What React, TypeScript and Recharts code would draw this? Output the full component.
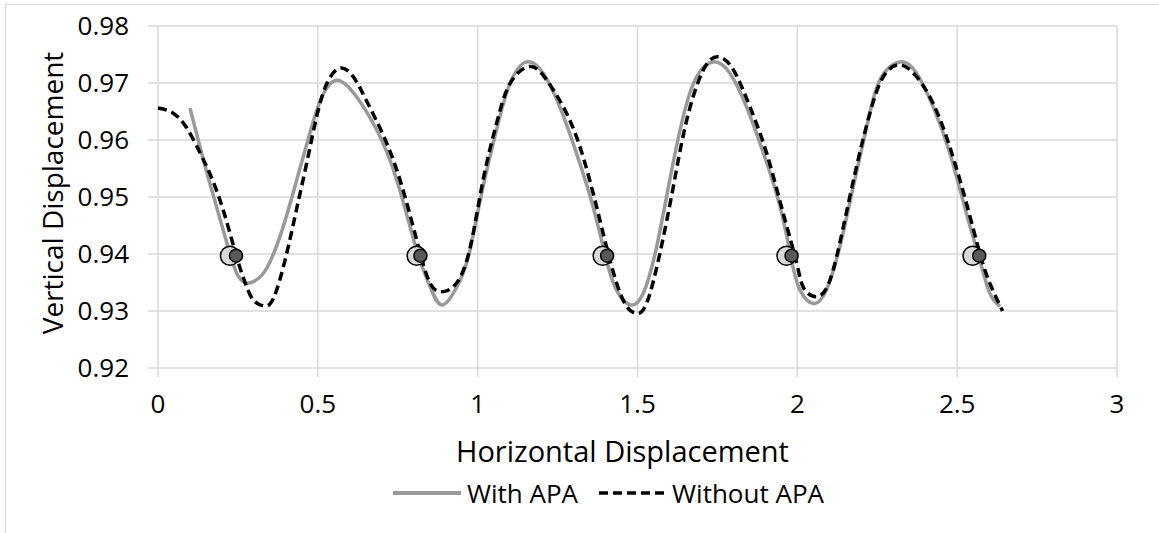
import React from "react";
import { ComposedChart, Line, Scatter, XAxis, YAxis, CartesianGrid } from "recharts";

const withApaX = [0.1, 0.142, 0.183, 0.225, 0.25, 0.275, 0.3, 0.34, 0.39, 0.434, 0.475, 0.51, 0.559, 0.621, 0.684, 0.747, 0.809, 0.851, 0.892, 0.945, 0.976, 1.017, 1.059, 1.101, 1.153, 1.205, 1.257, 1.309, 1.361, 1.403, 1.434, 1.476, 1.518, 1.56, 1.601, 1.643, 1.685, 1.737, 1.789, 1.841, 1.894, 1.946, 1.982, 2.008, 2.05, 2.091, 2.133, 2.175, 2.217, 2.258, 2.321, 2.373, 2.425, 2.477, 2.529, 2.571, 2.602, 2.634];
const withApaY = [0.9656, 0.9565, 0.9483, 0.9401, 0.9362, 0.9349, 0.9352, 0.9375, 0.9445, 0.953, 0.9612, 0.9672, 0.9705, 0.9676, 0.9618, 0.953, 0.9407, 0.9343, 0.9311, 0.9354, 0.9407, 0.9518, 0.9618, 0.9699, 0.9737, 0.9717, 0.9658, 0.9577, 0.9483, 0.9389, 0.9337, 0.9311, 0.9331, 0.9413, 0.953, 0.9641, 0.9711, 0.9737, 0.9717, 0.9658, 0.9577, 0.9483, 0.9389, 0.9337, 0.9313, 0.9337, 0.9413, 0.9518, 0.9623, 0.9705, 0.9737, 0.9717, 0.9658, 0.9577, 0.9471, 0.9389, 0.9331, 0.9308];

const withoutApaX = [0, 0.045, 0.089, 0.131, 0.163, 0.204, 0.246, 0.277, 0.3, 0.329, 0.361, 0.4, 0.434, 0.465, 0.496, 0.528, 0.569, 0.611, 0.653, 0.705, 0.757, 0.809, 0.851, 0.892, 0.934, 0.976, 1.017, 1.059, 1.101, 1.164, 1.216, 1.268, 1.32, 1.372, 1.414, 1.455, 1.492, 1.528, 1.57, 1.612, 1.654, 1.706, 1.753, 1.8, 1.852, 1.904, 1.956, 1.998, 2.02, 2.06, 2.102, 2.144, 2.185, 2.227, 2.269, 2.321, 2.373, 2.425, 2.477, 2.529, 2.571, 2.602, 2.642];
const withoutApaY = [0.9656, 0.9648, 0.9622, 0.9578, 0.954, 0.9477, 0.9395, 0.9343, 0.9318, 0.9309, 0.9322, 0.9395, 0.948, 0.9559, 0.964, 0.9699, 0.9726, 0.9711, 0.9668, 0.9608, 0.953, 0.9425, 0.9349, 0.9334, 0.9349, 0.941, 0.953, 0.9629, 0.9699, 0.9729, 0.9705, 0.9658, 0.9588, 0.9483, 0.9389, 0.9319, 0.9296, 0.9313, 0.9401, 0.9518, 0.9635, 0.9723, 0.9746, 0.9723, 0.9658, 0.9577, 0.9471, 0.9384, 0.934, 0.9325, 0.9354, 0.9448, 0.9553, 0.9647, 0.9711, 0.9732, 0.9711, 0.9664, 0.9588, 0.9489, 0.9401, 0.9349, 0.93];

const lightMarkerX = [0.225, 0.809, 1.391, 1.966, 2.548];
const darkMarkerX = [0.244, 0.821, 1.405, 1.982, 2.569];
const markerY = 0.9397;

const xTicks = [0, 0.5, 1, 1.5, 2, 2.5, 3];
const yTicks = [0.92, 0.93, 0.94, 0.95, 0.96, 0.97, 0.98];

const seriesNames = ["With APA", "Without APA"];
const xTitle = "Horizontal Displacement";
const yTitle = "Vertical Displacement";

const withApa = withApaX.map((x, i) => ({ x, y: withApaY[i] }));
const withoutApa = withoutApaX.map((x, i) => ({ x, y: withoutApaY[i] }));
const lightMarkers = lightMarkerX.map((x) => ({ x, y: markerY }));
const darkMarkers = darkMarkerX.map((x) => ({ x, y: markerY }));

const FONT = "'Open Sans', 'Noto Sans', sans-serif";
const GRID = "#d9d9d9";
const GRAY = "#999999";

const LightShape = (p: any) => (
  <circle cx={p.cx} cy={p.cy} r={9.5} fill="#d9d9d9" stroke="#000" strokeWidth={1.5} />
);
const DarkShape = (p: any) => (
  <circle cx={p.cx} cy={p.cy} r={6.5} fill="#595959" stroke="#000" strokeWidth={1.5} />
);

export default function App() {
  return (
    <div style={{ position: "absolute", left: 0, top: 0, width: 1159, height: 533, overflow: "hidden", background: "#fff", fontFamily: FONT }}>
      <div style={{ position: "absolute", left: 5, top: 4, width: 1200, height: 600, border: `1.5px solid ${GRID}` }} />
      <div style={{ position: "absolute", left: 0, top: 0 }}>
        <ComposedChart width={1159} height={533} margin={{ top: 26, right: 42, bottom: 105, left: 0 }}>
          <CartesianGrid stroke={GRID} strokeWidth={1.5} />
          <XAxis
            type="number"
            dataKey="x"
            domain={[0, 3]}
            ticks={xTicks}
            tickFormatter={(v: number) => String(v)}
            axisLine={false}
            tickLine={{ stroke: GRID, strokeWidth: 1.5 }}
            tickSize={9}
            tickMargin={18}
            height={60}
            tick={{ fill: "#000", fontSize: 26, fontFamily: FONT }}
            allowDuplicatedCategory={false}
            label={{
              content: (props: any) => {
                const vb = props.viewBox;
                return (
                  <text x={vb.x + vb.width / 2 - 15} y={vb.y + 82} textAnchor="middle" dominantBaseline="central" fontSize={29} fontFamily={FONT} fill="#000">
                    {xTitle}
                  </text>
                );
              },
            }}
          />
          <YAxis
            type="number"
            dataKey="y"
            domain={[0.92, 0.98]}
            ticks={yTicks}
            tickFormatter={(v: number) => v.toFixed(2)}
            axisLine={false}
            tickLine={{ stroke: GRID, strokeWidth: 1.5 }}
            tickSize={10}
            tickMargin={19}
            width={158}
            tick={{ fill: "#000", fontSize: 26, fontFamily: FONT }}
            label={{
              content: (props: any) => {
                const vb = props.viewBox;
                const cx = vb.x + 52;
                const cy = vb.y + vb.height / 2 - 4;
                return (
                  <text x={cx} y={cy} transform={`rotate(-90 ${cx} ${cy})`} textAnchor="middle" dominantBaseline="central" fontSize={28} fontFamily={FONT} fill="#000">
                    {yTitle}
                  </text>
                );
              },
            }}
          />
          <Line data={withApa} dataKey="y" type="natural" stroke={GRAY} strokeWidth={3.5} dot={false} activeDot={false} isAnimationActive={false} name={seriesNames[0]} />
          <Line data={withoutApa} dataKey="y" type="natural" stroke="#000" strokeWidth={3.5} strokeDasharray="9 5" dot={false} activeDot={false} isAnimationActive={false} name={seriesNames[1]} />
          <Scatter data={lightMarkers} dataKey="y" shape={LightShape} isAnimationActive={false} />
          <Scatter data={darkMarkers} dataKey="y" shape={DarkShape} isAnimationActive={false} />
        </ComposedChart>
      </div>
      <div style={{ position: "absolute", left: 392, top: 475, display: "flex", alignItems: "center", fontSize: 26, color: "#000", fontFamily: FONT, whiteSpace: "nowrap" }}>
        <svg width={70} height={10} style={{ marginRight: 5 }}>
          <line x1={1} y1={5} x2={69} y2={5} stroke={GRAY} strokeWidth={4} />
        </svg>
        <span style={{ marginRight: 20 }}>{seriesNames[0]}</span>
        <svg width={70} height={10} style={{ marginRight: 4 }}>
          <line x1={1} y1={5} x2={69} y2={5} stroke="#000" strokeWidth={3.5} strokeDasharray="9 5" />
        </svg>
        <span>{seriesNames[1]}</span>
      </div>
    </div>
  );
}
